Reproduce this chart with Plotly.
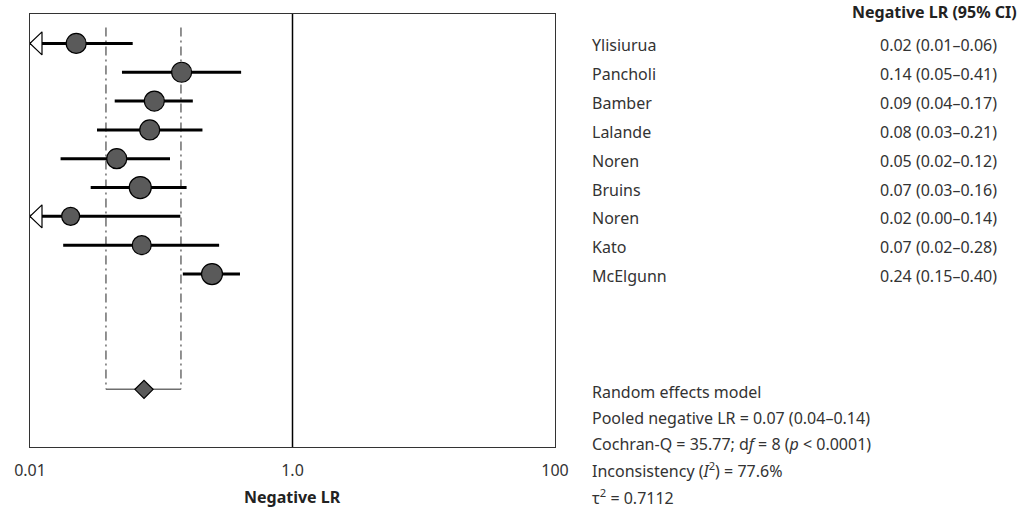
import math
import plotly.graph_objects as go

# Study-level negative likelihood ratios with 95% confidence intervals
studies = ["Ylisiurua", "Pancholi", "Bamber", "Lalande", "Noren",
           "Bruins", "Noren", "Kato", "McElgunn"]
lr_est = [0.0225, 0.143, 0.0886, 0.0817, 0.0458, 0.0692, 0.0204, 0.071, 0.2436]
lr_low = [0.008, 0.0502, 0.0442, 0.0324, 0.0171, 0.029, 0.004, 0.0179, 0.146]
lr_high = [0.0606, 0.406, 0.174, 0.206, 0.1166, 0.156, 0.1397, 0.276, 0.398]
weights = [20, 20, 20, 20, 20, 22, 18, 19, 21]  # marker diameters (study weight)

# Pooled random-effects estimate
pooled_est = 0.0739
pooled_low = 0.0379
pooled_high = 0.1413

tick_vals = [0.01, 1, 100]
tick_text = ["0.01", "1.0", "100"]

stats_lines = [
    "Random effects model",
    "Pooled negative LR = 0.07 (0.04–0.14)",
    "Cochran-Q = 35.77; d<i>f</i> = 8 (<i>p</i> < 0.0001)",
    "Inconsistency (<i>I</i><sup>2</sup>) = 77.6%",
    "τ<sup>2</sup> = 0.7112",
]

X_MIN, X_MAX = 0.01, 100
POOLED_ROW = 12
Y_RANGE = [14.0, -1.02]

FONT = "Noto Sans"
TEXT = "#333333"
FILL = "#5a5a5a"
GUIDE = "#6e6e6e"

W, H = 1021, 509
ML, MR, MT, MB = 30, 466, 14, 62
PW, PH = W - ML - MR, H - MT - MB


def px_x(p):
    return (p - ML) / PW


def px_y(p):
    return (H - MB - p) / PH


fig = go.Figure()

# Dash-dot guides at the pooled confidence limits, joined at the pooled row
for xv in (pooled_low, pooled_high):
    fig.add_trace(go.Scatter(
        x=[xv, xv], y=[-0.55, POOLED_ROW], mode="lines",
        line=dict(color=GUIDE, width=1.5, dash="9px,4px,2px,4px"),
        hoverinfo="skip", showlegend=False))
fig.add_trace(go.Scatter(
    x=[pooled_low, pooled_high], y=[POOLED_ROW, POOLED_ROW], mode="lines",
    line=dict(color=GUIDE, width=1.5), hoverinfo="skip", showlegend=False))

# Reference line at LR = 1
fig.add_trace(go.Scatter(
    x=[1, 1], y=Y_RANGE, mode="lines",
    line=dict(color="black", width=1.5), hoverinfo="skip", showlegend=False))

# Confidence interval whiskers; an open arrowhead marks a lower limit off the scale
arrow_len = 12 / (PW / math.log10(X_MAX / X_MIN))  # in log10 units
arrow_half = 0.4
for i, (lo, hi) in enumerate(zip(lr_low, lr_high)):
    fig.add_trace(go.Scatter(
        x=[max(lo, X_MIN), min(hi, X_MAX)], y=[i, i], mode="lines",
        line=dict(color="black", width=3), hoverinfo="skip", showlegend=False))
    if lo < X_MIN:
        base = X_MIN * 10 ** arrow_len
        fig.add_trace(go.Scatter(
            x=[X_MIN, base, base, X_MIN], y=[i, i - arrow_half, i + arrow_half, i],
            mode="lines", fill="toself", fillcolor="white",
            line=dict(color="black", width=1.2),
            hoverinfo="skip", showlegend=False))

# Point estimates
fig.add_trace(go.Scatter(
    x=lr_est, y=list(range(len(studies))), mode="markers",
    marker=dict(size=weights, color=FILL, opacity=1,
                line=dict(color="black", width=1.2)),
    showlegend=False))

# Pooled diamond
fig.add_trace(go.Scatter(
    x=[pooled_est], y=[POOLED_ROW], mode="markers",
    marker=dict(symbol="diamond", size=14, color=FILL, opacity=1,
                line=dict(color="black", width=1.2)),
    showlegend=False))

annotations = []
name_x = px_x(590)
value_x = px_x(999)
for i, (name, e, lo, hi) in enumerate(zip(studies, lr_est, lr_low, lr_high)):
    annotations.append(dict(
        x=name_x, y=i + 0.07, xref="paper", yref="y", text=name,
        xanchor="left", yanchor="middle", showarrow=False,
        font=dict(family=FONT, size=16, color=TEXT)))
    annotations.append(dict(
        x=value_x, y=i + 0.07, xref="paper", yref="y",
        text=f"{e:.2f} ({lo:.2f}–{hi:.2f})",
        xanchor="right", yanchor="middle", showarrow=False,
        font=dict(family=FONT, size=16, color=TEXT)))

annotations.append(dict(
    x=px_x(1019), y=px_y(12), xref="paper", yref="paper",
    text="<b>Negative LR (95% CI)</b>", xanchor="right", yanchor="middle",
    showarrow=False, font=dict(family=FONT, size=16, color="#222222")))

for k, line in enumerate(stats_lines):
    baseline = 396.7 + 26.2 * k
    annotations.append(dict(
        x=name_x, y=px_y(baseline - 5), xref="paper", yref="paper",
        text=line, xanchor="left", yanchor="middle", showarrow=False,
        font=dict(family=FONT, size=16, color=TEXT)))

annotations.append(dict(
    x=px_x(292), y=px_y(497), xref="paper", yref="paper",
    text="<b>Negative LR</b>", xanchor="center", yanchor="middle",
    showarrow=False, font=dict(family=FONT, size=16, color="#222222")))

fig.update_layout(
    width=W, height=H,
    margin=dict(l=ML, r=MR, t=MT, b=MB, pad=0),
    paper_bgcolor="white", plot_bgcolor="white",
    annotations=annotations,
    xaxis=dict(
        type="log", range=[math.log10(X_MIN), math.log10(X_MAX)],
        tickvals=tick_vals, ticktext=tick_text, ticks="",
        ticklabelstandoff=9,
        tickfont=dict(family=FONT, size=16, color=TEXT),
        showgrid=False, zeroline=False,
        showline=True, mirror=True, linecolor="#333333", linewidth=1.2),
    yaxis=dict(
        range=Y_RANGE, showticklabels=False, ticks="",
        showgrid=False, zeroline=False,
        showline=True, mirror=True, linecolor="#333333", linewidth=1.2),
)

fig.write_html("out.html")
